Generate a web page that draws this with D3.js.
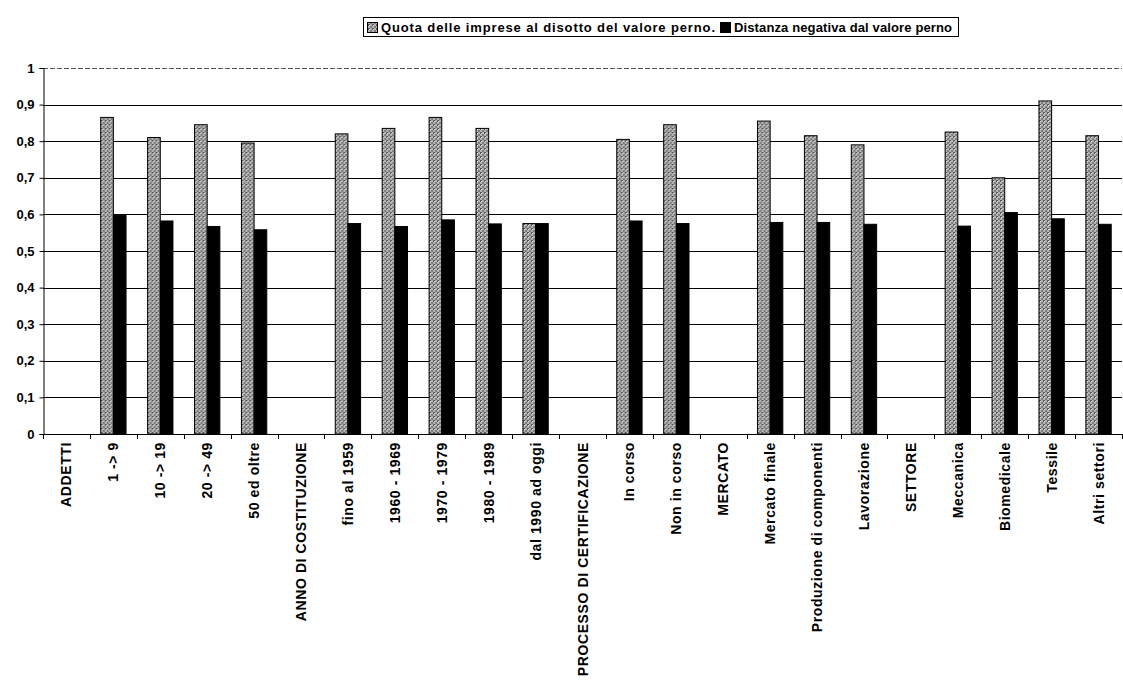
<!DOCTYPE html>
<html>
<head>
<meta charset="utf-8">
<script src="https://cdn.jsdelivr.net/npm/d3@7"></script>
<style>
  html, body { margin: 0; padding: 0; background: #fff; }
  svg { display: block; }
  .lbl { font-family: "Liberation Sans Narrow", "Arial Narrow", "Liberation Sans", sans-serif; font-weight: bold; fill: #000; }
</style>
</head>
<body>
<svg id="chart" width="1123" height="686"></svg>
<script>
// Categories along the x axis (group headings carry no values)
const categories = [
  "ADDETTI", "1 -> 9", "10 -> 19", "20 -> 49", "50 ed oltre",
  "ANNO DI COSTITUZIONE", "fino al 1959", "1960 - 1969", "1970 - 1979", "1980 - 1989", "dal 1990 ad oggi",
  "PROCESSO DI CERTIFICAZIONE", "In corso", "Non in corso",
  "MERCATO", "Mercato finale", "Produzione di componenti", "Lavorazione",
  "SETTORE", "Meccanica", "Biomedicale", "Tessile", "Altri settori"
];

// Share of firms below the pivot value
const quota = [
  null, 0.865, 0.81, 0.845, 0.795,
  null, 0.82, 0.835, 0.865, 0.835, 0.575,
  null, 0.805, 0.845,
  null, 0.855, 0.815, 0.79,
  null, 0.825, 0.70, 0.91, 0.815
];

// Negative distance from the pivot value
const distanza = [
  null, 0.598, 0.582, 0.567, 0.558,
  null, 0.575, 0.567, 0.585, 0.574, 0.575,
  null, 0.582, 0.575,
  null, 0.578, 0.578, 0.573,
  null, 0.568, 0.605, 0.588, 0.573
];

const seriesNames = ["Quota delle imprese al disotto del valore perno.", "Distanza negativa dal valore perno"];
const yTickValues = [0, 0.1, 0.2, 0.3, 0.4, 0.5, 0.6, 0.7, 0.8, 0.9, 1];

const svg = d3.select("#chart");
const plotL = 43, plotR = 1122, plotT = 68, plotB = 434;

// Cross-hatched grey fill used by the first series
const defs = svg.append("defs");
const pat = defs.append("pattern").attr("id", "hatch")
  .attr("width", 4).attr("height", 4).attr("patternUnits", "userSpaceOnUse");
pat.append("rect").attr("width", 4).attr("height", 4).attr("fill", "#b6b6b6");
pat.append("rect").attr("x", 0).attr("y", 0).attr("width", 2).attr("height", 2).attr("fill", "#555");
pat.append("rect").attr("x", 2).attr("y", 2).attr("width", 2).attr("height", 2).attr("fill", "#7c7c7c");
pat.append("rect").attr("x", 1).attr("y", 1).attr("width", 1).attr("height", 1).attr("fill", "#e0e0e0");

const x0 = d3.scaleBand().domain(categories).range([plotL, plotR])
  .paddingInner(0.46).paddingOuter(0.23);
const x1 = d3.scaleBand().domain([0, 1]).range([0, x0.bandwidth()]);
const y = d3.scaleLinear().domain([0, 1]).range([plotB, plotT]);

const it = d3.formatLocale({ decimal: ",", thousands: ".", grouping: [3], currency: ["€", ""] });
const fmt = v => v === 0 || v === 1 ? String(v) : it.format(".1f")(v);

// Horizontal gridlines
svg.append("g").selectAll("line").data(yTickValues.filter(v => v > 0)).join("line")
  .attr("x1", plotL).attr("x2", plotR)
  .attr("y1", d => Math.round(y(d)) + 0.5).attr("y2", d => Math.round(y(d)) + 0.5)
  .attr("stroke", d => d === 1 ? "#555" : "#000")
  .attr("stroke-width", 1)
  .attr("stroke-dasharray", d => d === 1 ? "5,2" : null);

// Y axis
const yAxis = svg.append("g").attr("transform", `translate(${plotL + 0.5},0)`)
  .call(d3.axisLeft(y).tickValues(yTickValues).tickFormat(fmt).tickSize(4).tickPadding(5));
yAxis.select(".domain").attr("stroke", "#000");
yAxis.selectAll(".tick line").attr("stroke", "#000");
yAxis.selectAll("text").attr("class", "lbl").style("font-size", "13px");

// Bars
const rows = categories.map((c, i) => ({ c, vals: [quota[i], distanza[i]] }));
const groups = svg.append("g").selectAll("g").data(rows).join("g")
  .attr("transform", d => `translate(${x0(d.c)},0)`);
groups.selectAll("rect").data(d => d.vals.map((v, k) => ({ v, k })).filter(e => e.v != null)).join("rect")
  .attr("x", e => x1(e.k))
  .attr("y", e => y(e.v))
  .attr("width", x1.bandwidth())
  .attr("height", e => y(0) - y(e.v))
  .attr("fill", e => e.k === 0 ? "url(#hatch)" : "#000")
  .attr("stroke", "#000").attr("stroke-width", 1);

// X axis with ticks between categories
const xg = svg.append("g");
xg.append("line").attr("x1", plotL).attr("x2", plotR)
  .attr("y1", plotB + 0.5).attr("y2", plotB + 0.5).attr("stroke", "#000");
const step = x0.step();
const edges = d3.range(categories.length + 1).map(i => plotL + i * step);
xg.selectAll("line.t").data(edges).join("line").attr("class", "t")
  .attr("x1", d => Math.round(d) + 0.5).attr("x2", d => Math.round(d) + 0.5)
  .attr("y1", plotB).attr("y2", plotB + 5).attr("stroke", "#000");
xg.selectAll("text").data(categories).join("text")
  .attr("class", "lbl")
  .attr("transform", d => `translate(${x0(d) + x0.bandwidth() / 2 + 5},${plotB + 8}) rotate(-90)`)
  .attr("text-anchor", "end")
  .style("font-size", "14px")
  .style("letter-spacing", "0.6px")
  .text(d => d);

// Legend
const lg = svg.append("g");
lg.append("rect").attr("x", 363.5).attr("y", 17.5).attr("width", 595).attr("height", 19)
  .attr("fill", "#fff").attr("stroke", "#000");
const lx = [367, 720];
const lw = [334, 218];
seriesNames.forEach((name, k) => {
  lg.append("rect").attr("x", lx[k] + 0.5).attr("y", 22.5).attr("width", 10).attr("height", 10)
    .attr("fill", k === 0 ? "url(#hatch)" : "#000").attr("stroke", "#000");
  lg.append("text").attr("x", lx[k] + 14).attr("y", 32)
    .style("font-family", "'Liberation Sans', Arial, sans-serif")
    .style("font-weight", "bold").style("font-size", "13px")
    .attr("textLength", lw[k]).attr("lengthAdjust", "spacing")
    .text(name);
});
</script>
</body>
</html>
